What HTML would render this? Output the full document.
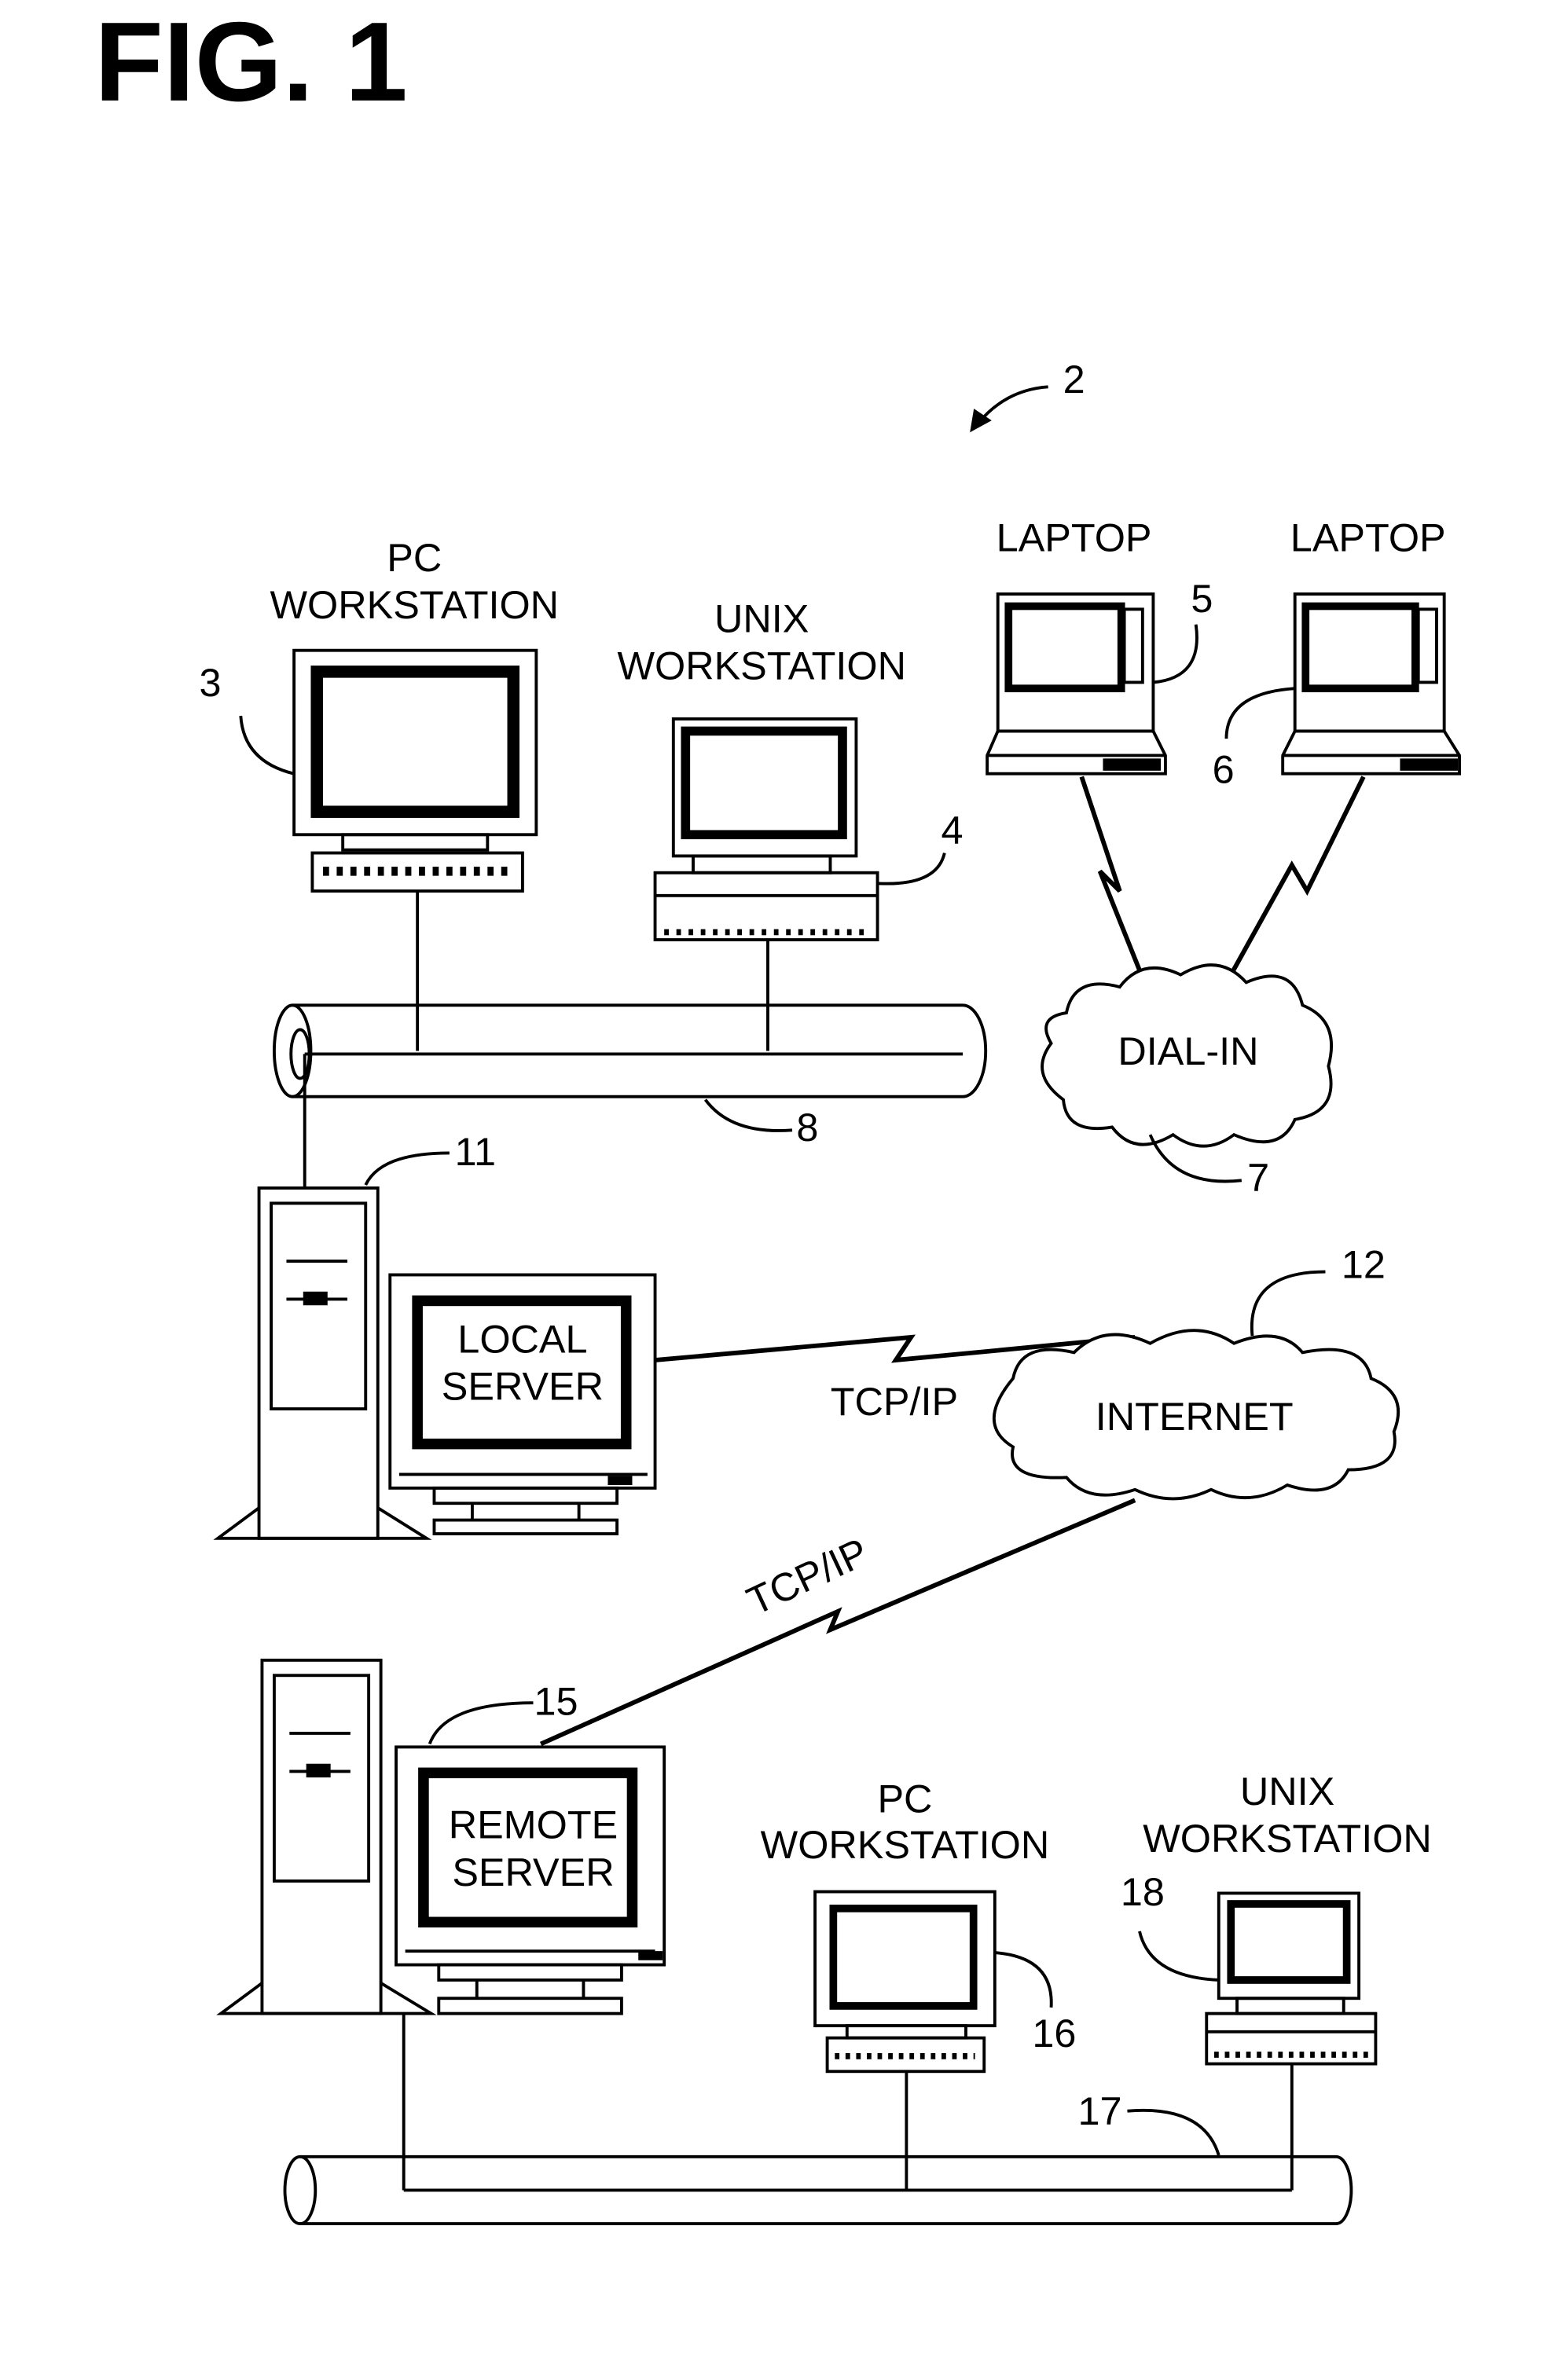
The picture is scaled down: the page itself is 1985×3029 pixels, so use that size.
<!DOCTYPE html>
<html><head><meta charset="utf-8"><style>
html,body{margin:0;padding:0;background:#fff;}
svg{display:block;}
text{font-family:"Liberation Sans",sans-serif;fill:#000;}
</style></head><body>
<svg width="1985" height="3029" viewBox="0 0 1024 1562.6" xmlns="http://www.w3.org/2000/svg">
<text x="62" y="66" font-size="74" font-weight="bold">FIG. 1</text>
<g fill="none" stroke="#000" stroke-width="2">
<path d="M688 254 Q660 256 642 278"/>
<path d="M638 282 l2 -12 l9 6 z" fill="#000"/>

<rect x="193" y="427" width="159" height="121"/>
<rect x="208" y="441" width="129" height="92" stroke-width="8"/>
<rect x="225" y="548" width="95" height="10"/>
<rect x="205" y="560" width="138" height="25"/>
<line x1="212" y1="572" x2="336" y2="572" stroke-dasharray="4 5" stroke-width="6"/>
<path d="M158 470 Q160 500 193 508"/>

<rect x="442" y="472" width="120" height="90"/>
<rect x="450" y="480" width="103" height="68" stroke-width="6"/>
<rect x="430" y="573" width="146" height="44"/>
<line x1="430" y1="588" x2="576" y2="588"/>
<line x1="436" y1="612" x2="570" y2="612" stroke-dasharray="3 5" stroke-width="4"/>
<rect x="455" y="562" width="90" height="11"/>
<path d="M620 560 Q615 582 576 580"/>

<rect x="655" y="390" width="102" height="90"/>
<rect x="662" y="398" width="74" height="54" stroke-width="5"/>
<rect x="738" y="400" width="12" height="48"/>
<path d="M655 480 L648 496 L648 508 L765 508 L765 496 L757 480 Z"/>
<line x1="648" y1="496" x2="765" y2="496"/>
<rect x="725" y="499" width="36" height="6" fill="#000"/>
<path d="M785 410 Q790 445 757 448"/>

<rect x="850" y="390" width="98" height="90"/>
<rect x="857" y="398" width="72" height="54" stroke-width="5"/>
<rect x="931" y="400" width="12" height="48"/>
<path d="M850 480 L842 496 L842 508 L958 508 L958 496 L948 480 Z"/>
<line x1="842" y1="496" x2="958" y2="496"/>
<rect x="920" y="499" width="36" height="6" fill="#000"/>
<path d="M805 485 Q805 455 850 452"/>

<path d="M710 510 L735 585 L722 572 L750 642" stroke-width="3"/>
<path d="M895 510 L858 585 L848 568 L808 640" stroke-width="3"/>

<path d="M192 660 L632 660 A15 30 0 0 1 632 720 L192 720"/>
<ellipse cx="192" cy="690" rx="12" ry="30"/>
<ellipse cx="197" cy="692" rx="6" ry="16"/>
<line x1="200" y1="692" x2="632" y2="692"/>

<path d="M700 665 Q705 640 735 648 Q750 628 775 640 Q800 625 818 645 Q848 632 855 660 Q880 670 872 700 Q880 730 850 735 Q840 758 810 745 Q790 760 770 745 Q745 760 730 740 Q700 745 698 722 Q675 705 690 685 Q680 668 700 665 Z" fill="#fff"/>
<path d="M463 722 Q480 745 520 742"/>
<path d="M755 745 Q770 780 815 775"/>

<line x1="274" y1="585" x2="274" y2="690"/>
<line x1="504" y1="617" x2="504" y2="690"/>
<line x1="200" y1="692" x2="200" y2="780"/>

<rect x="170" y="780" width="78" height="230"/>
<rect x="178" y="790" width="62" height="135"/>
<line x1="188" y1="828" x2="228" y2="828"/>
<line x1="188" y1="853" x2="228" y2="853"/>
<rect x="200" y="849" width="14" height="7" fill="#000"/>
<path d="M170 990 L143 1010 L280 1010 L248 990"/>
<path d="M240 778 Q250 757 295 757"/>

<rect x="256" y="837" width="174" height="140"/>
<rect x="274" y="854" width="137" height="94" stroke-width="7"/>
<line x1="262" y1="968" x2="425" y2="968"/>
<rect x="400" y="970" width="14" height="4" fill="#000"/>
<rect x="285" y="977" width="120" height="10"/>
<rect x="285" y="998" width="120" height="9"/>
<line x1="310" y1="987" x2="310" y2="998"/><line x1="380" y1="987" x2="380" y2="998"/>

<path d="M430 893 L598 878 L588 893 L745 878" stroke-width="3"/>

<path d="M665 905 Q670 880 705 888 Q725 868 755 882 Q785 865 810 882 Q840 870 855 888 Q895 880 900 905 Q925 915 915 940 Q920 965 885 965 Q875 985 845 975 Q820 990 795 978 Q770 990 745 978 Q715 988 700 970 Q660 972 665 950 Q640 935 665 905 Z" fill="#fff"/>
<path d="M822 877 Q818 835 870 835"/>

<path d="M745 985 L545 1070 L550 1058 L355 1145" stroke-width="3"/>

<rect x="172" y="1090" width="78" height="232"/>
<rect x="180" y="1100" width="62" height="135"/>
<line x1="190" y1="1138" x2="230" y2="1138"/>
<line x1="190" y1="1163" x2="230" y2="1163"/>
<rect x="202" y="1159" width="14" height="7" fill="#000"/>
<path d="M172 1302 L145 1322 L283 1322 L250 1302"/>

<rect x="260" y="1147" width="176" height="143"/>
<rect x="278" y="1164" width="137" height="98" stroke-width="7"/>
<line x1="266" y1="1281" x2="430" y2="1281"/>
<rect x="420" y="1282" width="14" height="4" fill="#000"/>
<rect x="288" y="1290" width="120" height="10"/>
<rect x="288" y="1312" width="120" height="10"/>
<line x1="313" y1="1300" x2="313" y2="1312"/><line x1="383" y1="1300" x2="383" y2="1312"/>
<path d="M282 1145 Q292 1118 350 1118"/>

<rect x="535" y="1242" width="118" height="88"/>
<rect x="547" y="1253" width="92" height="64" stroke-width="5"/>
<rect x="556" y="1330" width="78" height="8"/>
<rect x="543" y="1338" width="103" height="22"/>
<line x1="548" y1="1350" x2="640" y2="1350" stroke-dasharray="3 4" stroke-width="4"/>
<path d="M653 1282 Q692 1285 690 1318"/>

<rect x="800" y="1243" width="92" height="69"/>
<rect x="808" y="1250" width="76" height="50" stroke-width="5"/>
<rect x="812" y="1312" width="70" height="10"/>
<rect x="792" y="1322" width="111" height="33"/>
<line x1="792" y1="1334" x2="903" y2="1334"/>
<line x1="797" y1="1349" x2="898" y2="1349" stroke-dasharray="3 4" stroke-width="4"/>
<path d="M748 1268 Q755 1298 800 1300"/>

<path d="M197 1416 L877 1416 A10 22 0 0 1 877 1460 L197 1460"/>
<ellipse cx="197" cy="1438" rx="10" ry="22"/>
<line x1="265" y1="1322" x2="265" y2="1438"/>
<line x1="265" y1="1438" x2="848" y2="1438"/>
<line x1="595" y1="1360" x2="595" y2="1438"/>
<line x1="848" y1="1355" x2="848" y2="1438"/>
<path d="M740 1386 Q790 1382 800 1415"/>
</g>

<g font-size="26" text-anchor="middle">
<text x="705" y="258">2</text>
<text x="272" y="375">PC</text>
<text x="272" y="406">WORKSTATION</text>
<text x="138" y="457">3</text>
<text x="500" y="415">UNIX</text>
<text x="500" y="446">WORKSTATION</text>
<text x="625" y="554">4</text>
<text x="705" y="362">LAPTOP</text>
<text x="898" y="362">LAPTOP</text>
<text x="789" y="402">5</text>
<text x="803" y="514">6</text>
<text x="780" y="699">DIAL-IN</text>
<text x="530" y="749">8</text>
<text x="826" y="782">7</text>
<text x="312" y="765">11</text>
<text x="343" y="888">LOCAL</text>
<text x="343" y="919">SERVER</text>
<text x="587" y="929">TCP/IP</text>
<text x="784" y="939">INTERNET</text>
<text x="895" y="839">12</text>
<text x="530" y="1044" transform="rotate(-25 530 1035)">TCP/IP</text>
<text x="365" y="1126">15</text>
<text x="350" y="1207">REMOTE</text>
<text x="350" y="1238">SERVER</text>
<text x="594" y="1190">PC</text>
<text x="594" y="1220">WORKSTATION</text>
<text x="692" y="1344">16</text>
<text x="845" y="1185">UNIX</text>
<text x="845" y="1216">WORKSTATION</text>
<text x="750" y="1251">18</text>
<text x="722" y="1395">17</text>
</g>
</svg>
</body></html>
